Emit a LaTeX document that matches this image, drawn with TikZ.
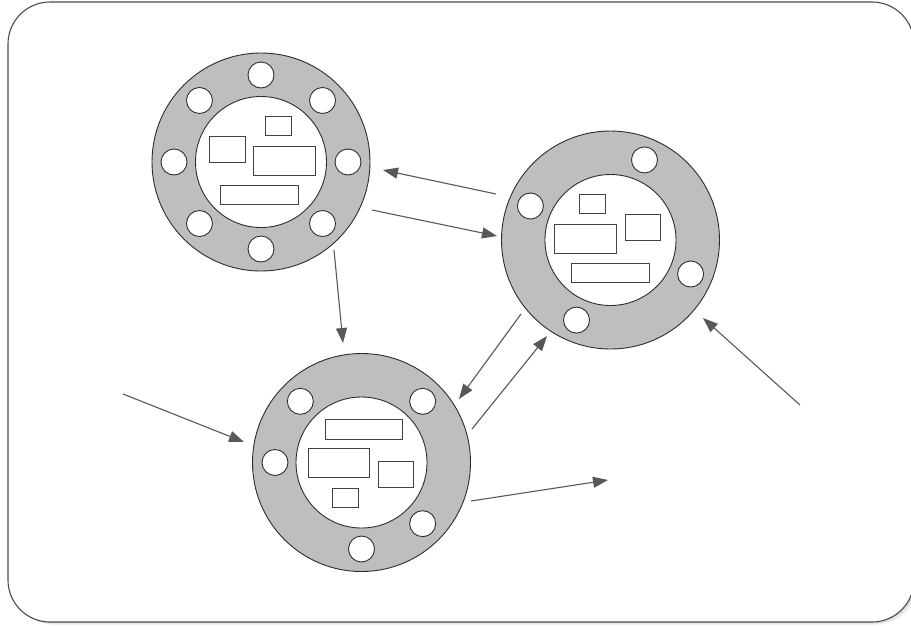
\documentclass[tikz,border=0pt]{standalone}
\usetikzlibrary{arrows.meta,calc}
\definecolor{ringgray}{RGB}{188,190,192}
\definecolor{linkgray}{RGB}{88,88,88}
\definecolor{edgedark}{RGB}{45,45,45}
\tikzset{
  frame/.style={draw=edgedark!85, line width=1.1pt, fill=white, rounded corners=42pt},
  ring/.style={circle, minimum size=218pt, inner sep=0pt, draw=edgedark, fill=ringgray, line width=0.9pt},
  core/.style={circle, minimum size=131pt, inner sep=0pt, draw=edgedark, fill=white, line width=0.9pt},
  hole/.style={circle, minimum size=26pt, inner sep=0pt, draw=edgedark, fill=white, line width=0.9pt},
  slot/.style={draw=edgedark!90, line width=0.9pt, fill=white},
  link/.style={draw=linkgray, line width=1.1pt, -{Triangle[length=15pt,width=11pt]}}
}
\begin{document}
\begin{tikzpicture}[x=1pt,y=-1pt]
\useasboundingbox (0,0) rectangle (911,625);

% soft shadow under the panel
\foreach \d/\o in {7/0.04,5/0.06,3/0.08}
  \fill[black, opacity=\o, rounded corners=44pt] (8+\d*0.3,2+\d) rectangle (913+\d,622+\d*0.4);
\draw[frame] (8,2) rectangle (914,622);

% hub A (top left), eight holes
\node[ring] (A) at (261,162) {};
\node[core] (Ac) at (A) {};
\foreach \a in {0,45,...,315}
  \node[hole] (A\a) at ($(A)+(\a:87pt)$) {};
\draw[slot] (265.7,116) rectangle (291,135);
\draw[slot] (209.3,136.7) rectangle (245,162.3);
\draw[slot] (253.7,146.3) rectangle (315,175.3);
\draw[slot] (220.7,185) rectangle (298.3,204);

% hub B (right), four holes
\node[ring] (B) at (610.5,240) {};
\node[core] (Bc) at (B) {};
\foreach \a in {67,157,247,337}
  \node[hole] (B\a) at ($(B)+(\a:87pt)$) {};
\draw[slot] (579.3,194) rectangle (605,213.3);
\draw[slot] (554.7,224.3) rectangle (616.7,253.3);
\draw[slot] (625,214.7) rectangle (660.7,240.3);
\draw[slot] (571.7,263) rectangle (649.3,282);

% hub C (bottom), five holes
\node[ring] (C) at (361.5,462.5) {};
\node[core] (Cc) at (C) {};
\foreach \a in {45,135,180,270,315}
  \node[hole] (C\a) at ($(C)+(\a:86.5pt)$) {};
\draw[slot] (325,419.3) rectangle (402.7,439);
\draw[slot] (308,448.3) rectangle (369.7,477.7);
\draw[slot] (378.3,461.3) rectangle (413.7,487);
\draw[slot] (332.3,488.3) rectangle (358.3,507.7);

% link end points
\coordinate (ba0) at (496,194);   \coordinate (ba1) at (383,170);
\coordinate (ab0) at (372,210);   \coordinate (ab1) at (497,236);
\coordinate (ac0) at (334,250);   \coordinate (ac1) at (343,343);
\coordinate (bc0) at (521,314);   \coordinate (bc1) at (459,399);
\coordinate (cb0) at (472,429);   \coordinate (cb1) at (547,336);
\coordinate (inB) at (800,405);   \coordinate (inBt) at (703,318);
\coordinate (inC) at (123,394);   \coordinate (inCt) at (244,442);
\coordinate (outC) at (471,501);  \coordinate (outCt) at (608,480);

\draw[link] (ba0) -- (ba1);
\draw[link] (ab0) -- (ab1);
\draw[link] (ac0) -- (ac1);
\draw[link] (bc0) -- (bc1);
\draw[link] (cb0) -- (cb1);
\draw[link] (inB) -- (inBt);
\draw[link] (inC) -- (inCt);
\draw[link] (outC) -- (outCt);
\end{tikzpicture}
\end{document}
